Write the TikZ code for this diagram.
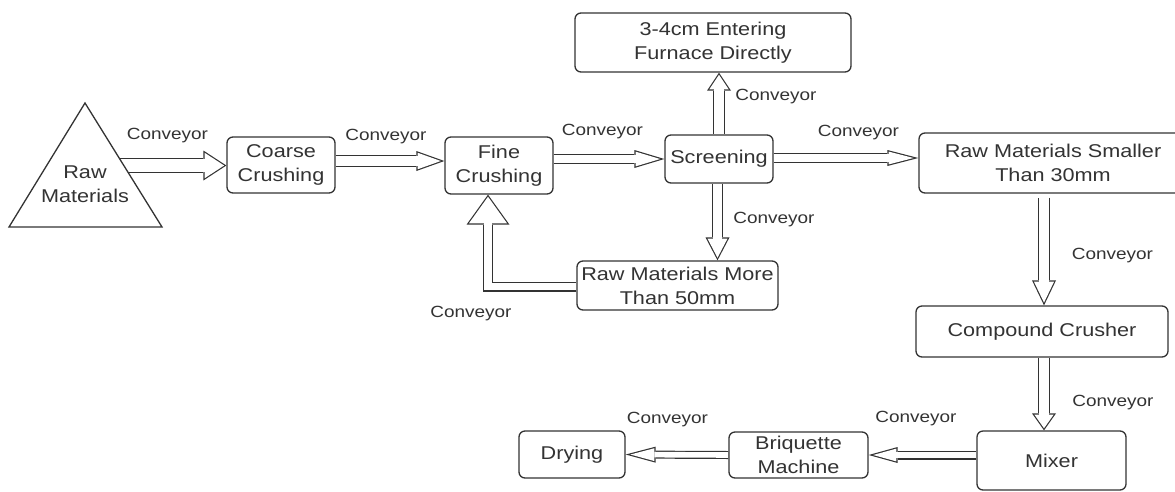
\documentclass[tikz,border=0pt]{standalone}
\usepackage{fontspec}
\setmainfont[FakeStretch=1.17]{Liberation Sans}
\usetikzlibrary{arrows.meta}
\pgfdeclarelayer{bottom}
\pgfdeclarelayer{background}
\pgfsetlayers{bottom,background,main}
\definecolor{linec}{gray}{0.2}
\definecolor{textc}{gray}{0.2}
\newcommand\boxfont{\fontsize{18.5}{24}\selectfont}
\newcommand\lblfont{\fontsize{16.2}{19}\selectfont}
\def\fatbw{1.2}
\tikzset{
  box/.style={draw=linec, line width=1.3pt, rounded corners=6pt, fill=white,
    inner sep=0pt, align=center, text=textc, font=\boxfont},
  lbl/.style={text=textc, font=\lblfont, inner sep=0pt},
  fat/.code n args={3}{%
    \pgfmathsetmacro\fatS{#1}%
    \pgfmathsetmacro\fatW{#2}%
    \pgfmathsetmacro\fatL{#3}%
    \pgfmathsetmacro\fatH{#2/2}%
    \pgfmathsetmacro\fatA{atan(\fatH/\fatL)}%
    \pgfmathsetmacro\fatD{\fatbw/sin(\fatA)}%
    \pgfmathsetmacro\fatIL{\fatL-\fatbw-\fatD}%
    \pgfmathsetmacro\fatIW{2*(\fatH*(\fatL-\fatbw)/\fatL-\fatbw/cos(\fatA))}%
    \pgfmathsetmacro\fatIS{\fatS-2*\fatbw}%
    \edef\fatopts{line width=\fatS pt, draw=linec, line join=miter,
      -{Triangle[width=\fatW pt,length=\fatL pt,line width=0pt]},
      postaction={draw=white, line width=\fatIS pt, line join=miter, shorten >=\fatD pt,
      -{Triangle[width=\fatIW pt,length=\fatIL pt,line width=0pt]}}}%
    \expandafter\pgfkeysalso\expandafter{\fatopts}%
  }
}
\begin{document}
\begin{tikzpicture}[x=1pt,y=-1pt]
\useasboundingbox (0,0) rectangle (1175,491);
\clip (0,0) rectangle (1175,491);
\begin{pgfonlayer}{bottom}
\fill[white] (0,0) rectangle (1175,491);
\end{pgfonlayer}

% nodes
\node[box, minimum width=108pt, minimum height=56pt] (coarse) at (281,165) {Coarse\\Crushing};
\node[box, minimum width=108pt, minimum height=57pt] (fine) at (499,165.5) {Fine\\Crushing};
\node[box, minimum width=108pt, minimum height=48pt] (screen) at (719,159) {Screening};
\node[box, minimum width=276pt, minimum height=59pt] (furnace) at (713,42.5) {3-4cm Entering\\Furnace Directly};
\node[box, minimum width=201pt, minimum height=49pt] (more) at (677.5,285.5) {Raw Materials More\\Than 50mm};
\node[box, minimum width=268pt, minimum height=60pt] (smaller) at (1053,163) {Raw Materials Smaller\\Than 30mm};
\node[box, minimum width=252pt, minimum height=51pt] (compound) at (1042,331.5) {Compound Crusher};
\node[box, minimum width=149pt, minimum height=59pt] (mixer) at (1051.5,460.5) {Mixer};
\node[box, minimum width=139pt, minimum height=46pt] (briq) at (798.5,455) {Briquette\\Machine};
\node[box, minimum width=106pt, minimum height=47pt] (drying) at (572,454.5) {Drying};

% raw materials triangle
\draw[draw=linec, line width=1.3pt, fill=white, line join=miter] (85,103) -- (162,227) -- (9,227) -- cycle;
\node[inner sep=0pt, align=center, text=textc, font=\boxfont] (raw) at (85,184) {Raw\\Materials};
\coordinate (rawin) at (105,165.5);

% connectors
\begin{pgfonlayer}{background}
\draw[fat={15}{30}{23}] (rawin) -- (rawin -| coarse.west);
\draw[fat={12}{20}{28}] ([yshift=4pt]coarse.east) -- ([yshift=4pt]coarse.east -| fine.west);
\draw[fat={10}{18}{30}] (fine.east |- screen.west) -- (screen.west);
\draw[fat={10}{16}{31}] ([yshift=1pt]screen.east) -- ([yshift=1pt]screen.east -| smaller.west);
\draw[fat={12}{24}{18}] (screen.north) -- (screen.north |- furnace.south);
\draw[fat={11}{24}{23}] ([xshift=-1.5pt]screen.south) -- ([xshift=-1.5pt]screen.south |- more.north);
\draw[fat={10}{43}{30}] ([yshift=-1pt]more.west) -| ([xshift=-11pt]fine.south);
\draw[fat={12}{24}{25}] ([yshift=-4pt,xshift=2pt]compound.north |- smaller.south) -- ([xshift=2pt]compound.north);
\draw[fat={12}{24}{17}] ([xshift=2pt]compound.south) -- ([xshift=2pt]compound.south |- mixer.north);
\draw[fat={9}{16}{29}] (mixer.west |- briq.east) -- (briq.east);
\draw[fat={8}{16}{30}] (briq.west) -- (drying.east);
\end{pgfonlayer}

% labels
\node[lbl] (l1) at (167.5,136) {Conveyor};
\node[lbl] (l2) at (386,137) {Conveyor};
\node[lbl] (l3) at (602.5,132) {Conveyor};
\node[lbl] (l4) at (858.5,133) {Conveyor};
\node[lbl] (l5) at (776,97) {Conveyor};
\node[lbl] (l6) at (774,220) {Conveyor};
\node[lbl] (l7) at (471,314) {Conveyor};
\node[lbl] (l8) at (1112.5,256) {Conveyor};
\node[lbl] (l9) at (1113,403) {Conveyor};
\node[lbl] (l10) at (916,419) {Conveyor};
\node[lbl] (l11) at (667.5,420) {Conveyor};
\end{tikzpicture}
\end{document}
